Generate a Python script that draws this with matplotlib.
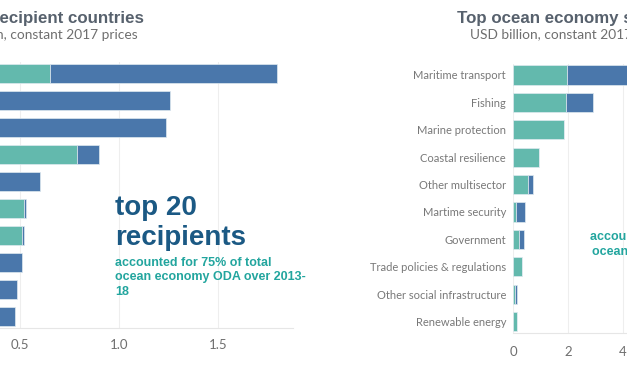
import numpy as np
import matplotlib.pyplot as plt

# canvas in pixels (the reference is a crop of a wider dashboard)
W, H = 627, 376
TEAL = '#63b9ad'
BLUE = '#4a77ab'
GREY = '#6f6f6f'

# ---- data: left panel (top recipients, country names are cut off in the crop)
left_teal = [0.65, 0.0, 0.0, 0.79, 0.0, 0.52, 0.51, 0.0, 0.0, 0.0]
left_blue = [1.15, 1.26, 1.24, 0.11, 0.60, 0.01, 0.01, 0.51, 0.485, 0.475]
left_ticks = [0.0, 0.5, 1.0, 1.5]

# ---- data: right panel (top ocean economy sectors)
sectors = ["Maritime transport", "Fishing", "Marine protection", "Coastal resilience",
           "Other multisector", "Martime security", "Government",
           "Trade policies & regulations", "Other social infrastructure", "Renewable energy"]
right_teal = [1.97, 1.93, 1.85, 0.96, 0.56, 0.10, 0.22, 0.33, 0.09, 0.15]
right_blue = [3.60, 0.99, 0.0, 0.0, 0.18, 0.34, 0.18, 0.01, 0.06, 0.0]
right_ticks = [0, 2, 4, 6]


def box(x0, y0, x1, y1):
    # pixel box (top-left origin) -> figure fraction
    return [x0 / W, 1 - y1 / H, (x1 - x0) / W, (y1 - y0) / H]


def txt(x, y, s, **kw):
    fig.text(x / W, 1 - y / H, s, va='baseline', **kw)


def style(ax):
    for side in ['top', 'right', 'left']:
        ax.spines[side].set_visible(False)
    ax.spines['bottom'].set_color('#e6e6e6')
    ax.xaxis.grid(True, color='#eeeeee', lw=0.8)
    ax.set_axisbelow(True)
    ax.tick_params(length=0, labelsize=9.5, labelcolor=GREY)
    for lab in ax.get_xticklabels():
        lab.set_family('Lato')


fig = plt.figure(figsize=(6.27, 3.76), dpi=100)

# left panel
ax1 = fig.add_axes(box(-79, 62, 293, 328))
rows = np.arange(len(left_teal))
ax1.barh(rows, left_teal, height=0.7, color=TEAL, edgecolor='#dfeaf0', linewidth=0.5)
ax1.barh(rows, left_blue, left=left_teal, height=0.7, color=BLUE, edgecolor='#dfeaf0', linewidth=0.5)
ax1.set_xlim(0, 1.88)
ax1.set_ylim(9.44, -0.43)
ax1.set_yticks([])
ax1.set_xticks(left_ticks)
ax1.set_xticklabels(['0.0', '0.5', '1.0', '1.5'])
style(ax1)
ax1.tick_params(axis='x', pad=8)

# right panel
ax2 = fig.add_axes(box(513, 64, 700, 333))
rows2 = np.arange(len(sectors))
ax2.barh(rows2, right_teal, height=0.7, color=TEAL, edgecolor='#dfeaf0', linewidth=0.5)
ax2.barh(rows2, right_blue, left=right_teal, height=0.7, color=BLUE, edgecolor='#dfeaf0', linewidth=0.5)
ax2.set_xlim(0, 6.8)
ax2.set_ylim(9.42, -0.4)
ax2.set_yticks(rows2)
ax2.set_yticklabels(sectors, family='Lato', fontsize=8, color='#787878')
ax2.set_xticks(right_ticks)
style(ax2)
ax2.tick_params(axis='y', pad=5, labelsize=8, labelcolor='#787878')
ax2.tick_params(axis='x', pad=9)

# titles
txt(144, 23, "Top 10 recipient countries", ha='right', family='Liberation Sans',
    fontweight='bold', fontsize=12.2, color='#57616d')
txt(138, 39, "USD billion, constant 2017 prices", ha='right', family='Lato',
    fontsize=9.9, color=GREY)
txt(457, 23, "Top ocean economy sectors", ha='left', family='Liberation Sans',
    fontweight='bold', fontsize=12.2, color='#57616d')
txt(470, 39, "USD billion, constant 2017 prices", ha='left', family='Lato',
    fontsize=9.9, color=GREY)

# annotations
DARK = '#1b5984'
ANN = '#22a59e'
txt(115, 215, "top 20", family='Liberation Sans', fontweight='bold', fontsize=20, color=DARK)
txt(115, 245, "recipients", family='Liberation Sans', fontweight='bold', fontsize=20, color=DARK)
txt(115, 266, "accounted for 75% of total", family='Liberation Sans', fontweight='bold',
    fontsize=9, color=ANN)
txt(115, 280, "ocean economy ODA over 2013-", family='Liberation Sans', fontweight='bold',
    fontsize=9, color=ANN)
txt(115, 295, "18", family='Liberation Sans', fontweight='bold', fontsize=9, color=ANN)

txt(590, 240, "accounted for 54% of", family='Liberation Sans', fontweight='bold',
    fontsize=9, color=ANN)
txt(592, 255, "ocean economy ODA", family='Liberation Sans', fontweight='bold',
    fontsize=9, color=ANN)

fig.savefig('out.png', dpi=100)
